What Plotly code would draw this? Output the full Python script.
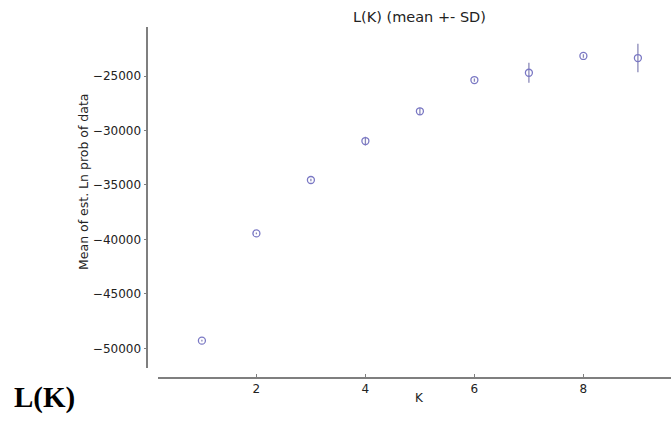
import plotly.graph_objects as go

K = [1, 2, 3, 4, 5, 6, 7, 8, 9]
mean_lnp = [-49300, -39450, -34550, -30970, -28240, -25370, -24700, -23160, -23350]
sd_lnp = [80, 90, 120, 400, 330, 150, 920, 160, 1310]

x_ticks = [2, 4, 6, 8]
y_ticks = [-50000, -45000, -40000, -35000, -30000, -25000]
y_tick_text = ["\u221250000", "\u221245000", "\u221240000", "\u221235000", "\u221230000", "\u221225000"]

W, H = 671, 421
mark_col = "#7a78c4"
axis_col = "#7f7f7f"

fig = go.Figure()
fig.add_trace(go.Scatter(
    x=K, y=mean_lnp, mode="markers",
    marker=dict(symbol="circle-open", size=7, color=mark_col, line=dict(width=1.3, color=mark_col)),
    error_y=dict(type="data", array=sd_lnp, visible=True, color="#8a88b8", thickness=1.3, width=0),
    showlegend=False,
))

fig.update_layout(
    width=W, height=H,
    margin=dict(l=0, r=0, t=0, b=0),
    paper_bgcolor="white", plot_bgcolor="white",
    font=dict(family="DejaVu Sans", color="#222222"),
    xaxis=dict(
        domain=[158.3 / W, 1.0], anchor="free", position=1 - 378 / H,
        range=[0.2, 0.2 + (W - 158.3) / 54.5],
        tickmode="array", tickvals=x_ticks, ticktext=[str(v) for v in x_ticks],
        ticks="inside", ticklen=3, tickcolor=axis_col, tickwidth=1,
        showline=True, linecolor=axis_col, linewidth=1.6,
        showgrid=False, zeroline=False, tickfont=dict(size=12, color="#222222"),
    ),
    yaxis=dict(
        domain=[1 - 368 / H, 1 - 27.3 / H], anchor="free", position=147.3 / W,
        range=[-51808, -20529],
        tickmode="array", tickvals=y_ticks, ticktext=y_tick_text,
        ticks="outside", ticklen=3, tickcolor=axis_col, tickwidth=1,
        showline=True, linecolor=axis_col, linewidth=1.6,
        showgrid=False, zeroline=False, tickfont=dict(size=12, color="#222222"),
    ),
    annotations=[
        dict(text="L(K) (mean +- SD)", x=5, xref="x", y=1 - 17 / H, yref="paper",
             showarrow=False, xanchor="center", yanchor="middle",
             font=dict(size=14.5, color="#222222")),
        dict(text="K", x=5, xref="x", y=1 - 398 / H, yref="paper",
             showarrow=False, xanchor="center", yanchor="middle",
             font=dict(size=12, color="#222222")),
        dict(text="Mean of est. Ln prob of data", x=83 / W, xref="paper", y=1 - 182 / H, yref="paper",
             showarrow=False, xanchor="center", yanchor="middle", textangle=-90,
             font=dict(size=12.5, color="#222222")),
        dict(text="<b>L(K)</b>", x=12 / W, xref="paper", y=1 - 397 / H, yref="paper",
             showarrow=False, xanchor="left", yanchor="middle",
             font=dict(size=29, family="Liberation Serif", color="#000000")),
    ],
)

fig.write_html("out.html")
